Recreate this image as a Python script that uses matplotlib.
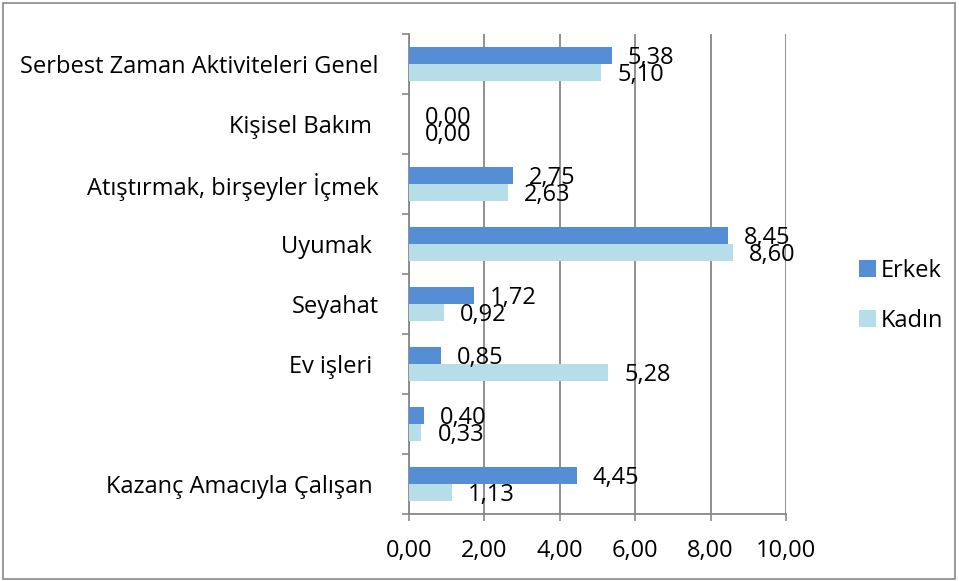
import matplotlib
matplotlib.use("Agg")
import matplotlib.pyplot as plt
import numpy as np
from matplotlib.patches import Rectangle

plt.rcParams['font.family'] = ['Open Sans', 'DejaVu Sans']

categories = ["Serbest Zaman Aktiviteleri Genel", "Kişisel Bakım ",
              "Atıştırmak, birşeyler İçmek", "Uyumak ", "Seyahat",
              "Ev işleri ", "", "Kazanç Amacıyla Çalışan "]
erkek = [5.38, 0.00, 2.75, 8.45, 1.72, 0.85, 0.40, 4.45]
kadin = [5.10, 0.00, 2.63, 8.60, 0.92, 5.28, 0.33, 1.13]
x_ticks = [0, 2, 4, 6, 8, 10]

c_erkek = "#558ED5"
c_kadin = "#B7DEE8"
grid_c = "#878787"
fs = 17


def fmt(v):
    return f"{v:.2f}".replace(".", ",")


fig = plt.figure(figsize=(9.59, 5.81), dpi=100)
ax = fig.add_axes([0.4265, 0.1153, 0.3931, 0.8262])

y = np.arange(len(categories))
h = 0.283
b1 = ax.barh(y - h / 2, erkek, height=h, color=c_erkek, label="Erkek", zorder=3)
b2 = ax.barh(y + h / 2, kadin, height=h, color=c_kadin, label="Kadın", zorder=3)

# data labels
for bars, vals in ((b1, erkek), (b2, kadin)):
    for bar, v in zip(bars, vals):
        yc = bar.get_y() + bar.get_height() / 2
        ax.annotate(fmt(v), (v, yc), xytext=(11.5, -2), textcoords="offset points",
                    ha="left", va="center", fontsize=fs, color="black", zorder=4)

ax.set_xlim(0, 10)
ax.set_ylim(len(categories) - 0.5, -0.5)
ax.set_xticks(x_ticks)
ax.set_xticklabels([fmt(t) for t in x_ticks], fontsize=fs)
ax.set_yticks(y)
ax.set_yticklabels(categories, fontsize=fs)
ax.tick_params(axis="y", length=0, pad=22)
ax.set_yticks(np.arange(-0.5, len(categories)), minor=True)
ax.tick_params(axis="y", which="minor", length=5, width=1.2, color=grid_c, direction="out")
ax.tick_params(axis="x", length=5, width=1.2, color=grid_c, direction="out", pad=13)

ax.grid(axis="x", color=grid_c, linewidth=1.3, zorder=0)
for s in ("top", "right"):
    ax.spines[s].set_visible(False)
for s in ("left", "bottom"):
    ax.spines[s].set_color(grid_c)
    ax.spines[s].set_linewidth(1.3)

ax.legend(loc="center left", bbox_to_anchor=(1.136, 0.455), frameon=False,
          fontsize=fs, handlelength=0.75, handleheight=0.75, handletextpad=0.2,
          labelspacing=1.1)

# chart border
fig.patches.append(Rectangle((0.003, 0.004), 0.993, 0.99, transform=fig.transFigure,
                             fill=False, edgecolor=grid_c, linewidth=1.2))

fig.savefig("out.png", dpi=100)
